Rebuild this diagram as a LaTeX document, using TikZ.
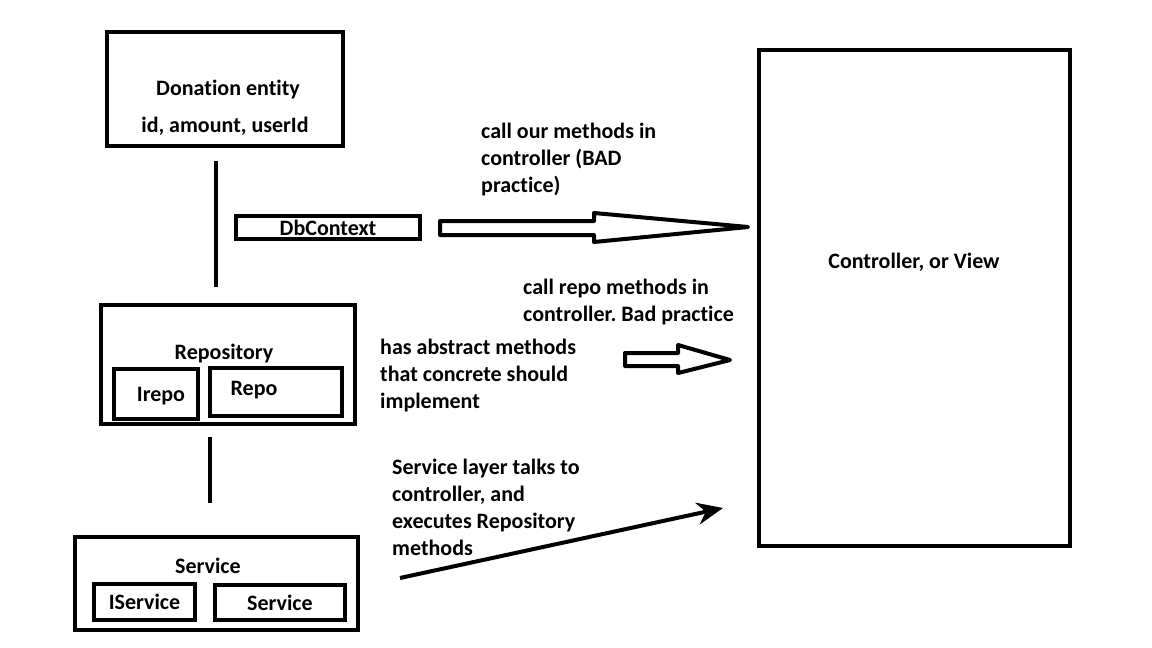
\documentclass[tikz,border=0pt]{standalone}
\usepackage{fontspec}
\setmainfont{Carlito}[Ligatures=NoCommon]
\usetikzlibrary{arrows.meta}
\frenchspacing

\begin{document}
\begin{tikzpicture}[x=1pt, y=-1pt,
		box/.style={draw, line width=4pt, inner sep=0pt},
		lbl/.style={font=\fontsize{22}{27}\selectfont\bfseries, inner sep=0pt},
		note/.style={lbl, align=left, anchor=north west},
		link/.style={line width=4pt},
		hollow/.style={draw, line width=4pt, line join=round, fill=white}]
	\useasboundingbox (0,0) rectangle (1152,648);

	% entity and context
	\node[box, minimum width=236pt, minimum height=114pt] (entity) at (225,89) {};
	\node[lbl] (entityname) at (228,90) {Donation entity};
	\node[lbl] (entityfields) at (225,126) {id, amount, userId};
	\node[box, lbl, minimum width=184pt, minimum height=23pt] (dbcontext) at (328,227.5) {DbContext};

	% repository layer
	\node[box, minimum width=254pt, minimum height=119pt] (repository) at (228,364.5) {};
	\node[lbl] (repositoryname) at (224,354) {Repository};
	\node[box, minimum width=84pt, minimum height=50pt] (irepo) at (155.5,394) {};
	\node[lbl] (ireponame) at (161,396) {Irepo};
	\node[box, minimum width=132pt, minimum height=48pt] (repo) at (276,392) {};
	\node[lbl] (reponame) at (254,390) {Repo};

	% service layer
	\node[box, minimum width=283pt, minimum height=93pt] (service) at (216.5,583.5) {};
	\node[lbl] (servicename) at (208,566) {Service};
	\node[box, lbl, minimum width=101pt, minimum height=36pt] (iservice) at (144.5,602) {IService};
	\node[box, lbl, minimum width=130pt, minimum height=35pt] (serviceimpl) at (280,602.5) {Service};

	% controller
	\node[box, lbl, minimum width=311pt, minimum height=496pt] (controller) at (914.5,298) {};
	\node[lbl] (controllername) at (914,262) {Controller, or View};

	% links between layers
	\draw[link, shorten >=16pt, shorten <=13pt] ([xshift=-9pt]entity.south) -- ([xshift=-9pt]entity.south |- repository.north);
	\draw[link, shorten >=32pt, shorten <=11pt] ([xshift=-18pt]repository.south) -- ([xshift=-18pt]repository.south |- service.north);

	% notes
	\node[note] (note1) at (481,122.5) {call our methods in\\controller (BAD\\practice)};
	\node[note] (note2) at (523,278.5) {call repo methods in\\controller. Bad practice};
	\node[note] (note3) at (380,338.5) {has abstract methods\\that concrete should\\implement};
	\node[note] (note4) at (392,458.5) {Service layer talks to\\controller, and\\executes Repository\\methods};

	% arrows to the controller
	\draw[hollow] (440,221) -- (594,221) -- (594,213) -- (748,227) -- (594,242) -- (594,235) -- (440,235) -- cycle;
	\draw[hollow] (625,353) -- (678,353) -- (678,345) -- (730,360) -- (678,373) -- (678,366) -- (625,366) -- cycle;
	\coordinate (servicetail) at (400,578);
	\coordinate (servicetip) at (723,508);
	\draw[link, -{Stealth[length=26pt, width=22pt]}] (servicetail) -- (servicetip);
\end{tikzpicture}
\end{document}
